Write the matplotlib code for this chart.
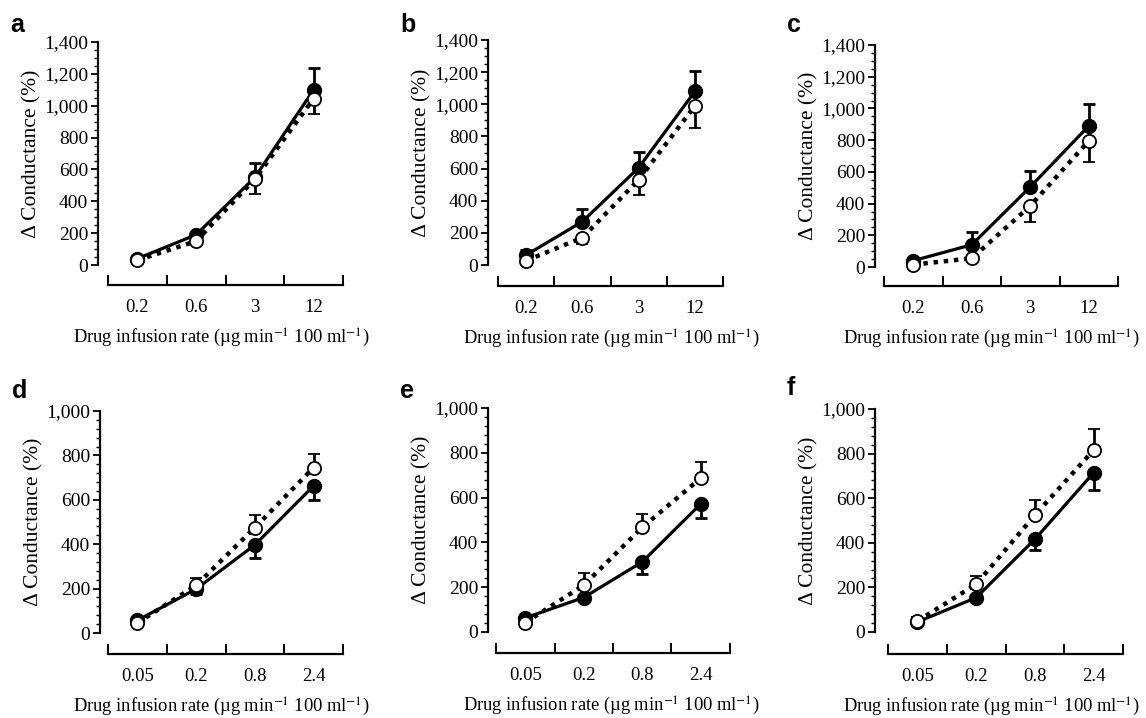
import matplotlib
matplotlib.use("Agg")
import matplotlib.pyplot as plt
from matplotlib.ticker import FixedLocator, MultipleLocator, FuncFormatter, NullFormatter
import numpy as np

plt.rcParams['font.family'] = ['Liberation Serif', 'DejaVu Serif']
plt.rcParams['mathtext.fontset'] = 'stix'

# ---- data ----
top_rates = ['0.2', '0.6', '3', '12']
bottom_rates = ['0.05', '0.2', '0.8', '2.4']

a_filled = [40, 190, 550, 1100]
a_open = [30, 150, 540, 1045]
a_filled_err = [5, 10, 90, 135]
a_open_err = [10, 5, 95, 100]

b_filled = [62, 270, 605, 1080]
b_open = [27, 170, 530, 990]
b_filled_err = [30, 78, 100, 130]
b_open_err = [5, 37, 93, 139]

c_filled = [40, 140, 505, 890]
c_open = [15, 55, 385, 795]
c_filled_err = [5, 80, 100, 135]
c_open_err = [5, 5, 100, 135]

d_filled = [57, 198, 397, 663]
d_open = [45, 215, 475, 745]
d_filled_err = [5, 23, 60, 65]
d_open_err = [5, 35, 55, 60]

e_filled = [63, 154, 313, 572]
e_open = [42, 209, 467, 687]
e_filled_err = [5, 5, 52, 65]
e_open_err = [5, 55, 60, 70]

f_filled = [45, 154, 416, 714]
f_open = [49, 214, 524, 816]
f_filled_err = [5, 5, 50, 78]
f_open_err = [20, 37, 70, 93]

panel_letters = ['a', 'b', 'c', 'd', 'e', 'f']

# ---- layout (pixels) ----
W, H = 1146, 718
fig = plt.figure(figsize=(W / 100, H / 100), dpi=100)

# (x_left, x_right, y_zero, y_top, yaxis_x, xline_y, xlabel_center_x, letter_y)
layout = [
    (108, 343, 265, 42, 98, 285, 221, 25),
    (498, 723, 265, 40, 488, 286, 611, 25),
    (884, 1118, 267, 45, 875, 286, 991, 25),
    (108, 343, 633, 411, 100, 654, 221, 391),
    (496, 730, 632, 408, 488, 653, 611, 391),
    (888, 1123, 632, 409, 875, 654, 991, 388),
]

panels = [
    (top_rates, a_filled, a_open, a_filled_err, a_open_err, 1400, 50, 'up'),
    (top_rates, b_filled, b_open, b_filled_err, b_open_err, 1400, 50, 'up'),
    (top_rates, c_filled, c_open, c_filled_err, c_open_err, 1400, 50, 'up'),
    (bottom_rates, d_filled, d_open, d_filled_err, d_open_err, 1000, 40, 'down'),
    (bottom_rates, e_filled, e_open, e_filled_err, e_open_err, 1000, 40, 'down'),
    (bottom_rates, f_filled, f_open, f_filled_err, f_open_err, 1000, 40, 'down'),
]

px2pt = 72 / 100

for i, (lay, pan) in enumerate(zip(layout, panels)):
    xl, xr, yz, yt, yax, xline, xlc, ly = lay
    rates, filled, opn, ferr, oerr, ymax, minor, fdir = pan
    ax = fig.add_axes([xl / W, (H - yz) / H, (xr - xl) / W, (yz - yt) / H])
    ax.set_xlim(0, 4)
    ax.set_ylim(0, ymax)
    xs = np.arange(len(rates)) + 0.5
    zeros = np.zeros(len(rates))
    if fdir == 'up':
        f_yerr = [zeros, ferr]
        o_yerr = [oerr, zeros]
    else:
        f_yerr = [ferr, zeros]
        o_yerr = [zeros, oerr]

    ax.plot(xs, filled, '-', color='black', lw=2.3, zorder=2, clip_on=False)
    ax.plot(xs, opn, linestyle=(0, (1, 1.3)), color='black', lw=3.2, zorder=2,
            clip_on=False)
    eb1 = ax.errorbar(xs, filled, yerr=f_yerr, fmt='o', color='black', ms=10,
                      mfc='black', mec='black', elinewidth=2, capsize=4,
                      capthick=2, zorder=3)
    eb2 = ax.errorbar(xs, opn, yerr=o_yerr, fmt='o', color='black', ms=9.5,
                      mfc='white', mec='black', mew=1.3, elinewidth=2,
                      capsize=4, capthick=2, zorder=4)
    for eb in (eb1, eb2):
        for child in eb.get_children():
            child.set_clip_on(False)

    for s in ['top', 'right']:
        ax.spines[s].set_visible(False)
    ax.spines['left'].set_position(('outward', (xl - yax) * px2pt))
    ax.spines['bottom'].set_position(('outward', (xline - yz) * px2pt))
    ax.spines['left'].set_linewidth(1.6)
    ax.spines['bottom'].set_linewidth(1.6)

    ax.xaxis.set_major_locator(FixedLocator(np.arange(0, len(rates) + 1)))
    ax.xaxis.set_major_formatter(NullFormatter())
    ax.xaxis.set_minor_locator(FixedLocator(xs))
    ax.set_xticklabels(rates, minor=True)
    ax.tick_params(axis='x', which='major', direction='in', length=7,
                   width=1.4)
    ax.tick_params(axis='x', which='minor', length=0, labelsize=13.5, pad=10)

    ax.yaxis.set_major_locator(MultipleLocator(200))
    ax.yaxis.set_minor_locator(MultipleLocator(minor))
    ax.yaxis.set_major_formatter(FuncFormatter(lambda v, p: f'{int(v):,}'))
    ax.tick_params(axis='y', which='major', direction='out', length=5,
                   width=1.3, labelsize=14, pad=2)
    ax.tick_params(axis='y', which='minor', direction='out', length=3,
                   width=1.0)

    ax.set_ylabel('Δ Conductance (%)', fontsize=15.5, labelpad=2)
    ax.set_xlabel('Drug infusion rate (µg min$^{-1}$ 100 ml$^{-1}$)',
                  fontsize=13.3, labelpad=8)
    ax.xaxis.label.set_x((xlc - xl) / (xr - xl))

    fig.text((yax - 88) / W, 1 - ly / H, panel_letters[i],
             fontsize=18, fontweight='bold',
             family=['Liberation Sans', 'DejaVu Sans'], va='center',
             ha='left')

fig.savefig('out.png', dpi=100)
